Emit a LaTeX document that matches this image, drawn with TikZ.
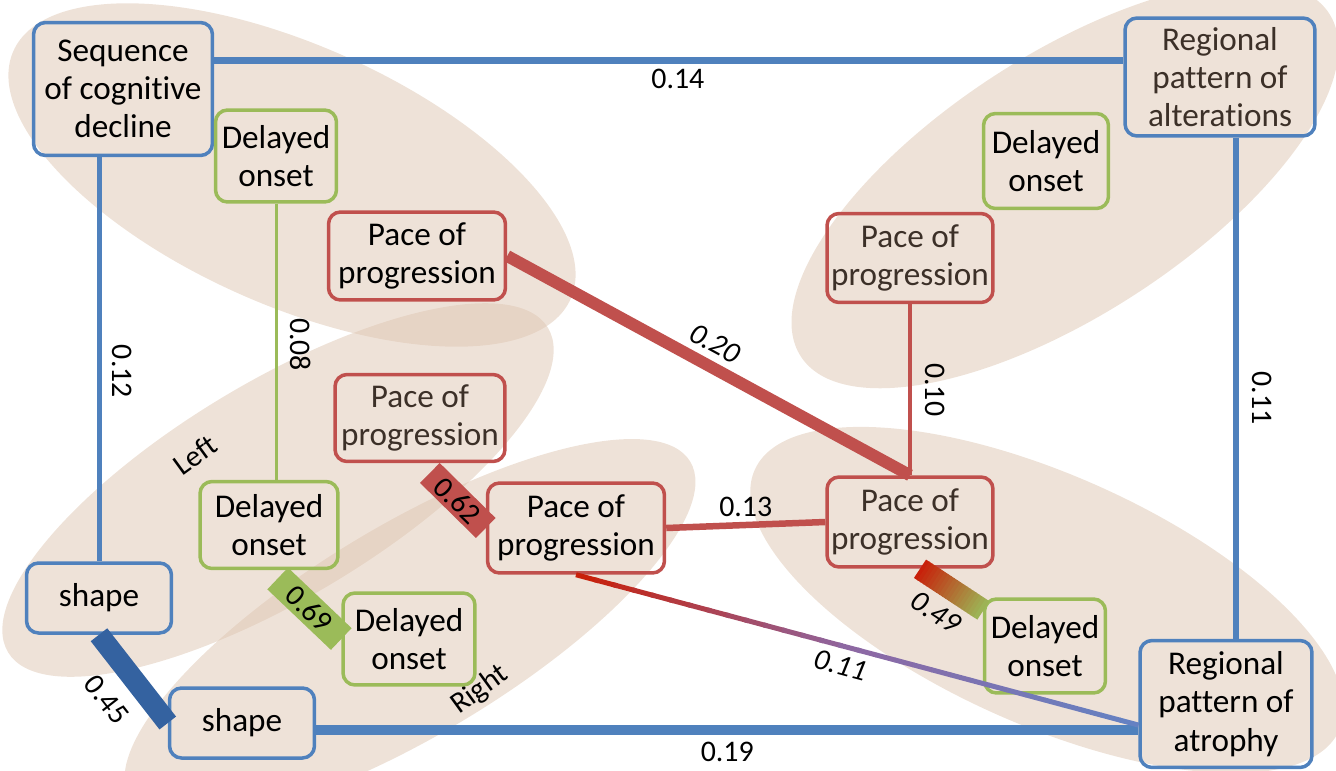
\documentclass[tikz,border=0pt]{standalone}
\usepackage{fontspec}
\setmainfont{Carlito}[Ligatures=NoCommon]
\usetikzlibrary{calc}

\definecolor{boxblue}{RGB}{79,129,189}
\definecolor{boxred}{RGB}{192,80,77}
\definecolor{boxgreen}{RGB}{155,187,89}
\definecolor{bardarkblue}{RGB}{52,98,160}
\definecolor{ovalbeige}{RGB}{222,198,178}
\definecolor{textbrown}{RGB}{60,48,40}
\definecolor{deepred}{RGB}{200,32,10}
\definecolor{linkpurple}{RGB}{140,105,165}
\definecolor{linkblue}{RGB}{100,130,195}

\tikzset{
  factor/.style={draw, rounded corners=0.24cm, line width=0.07cm, align=center,
    inner sep=0pt, text=black, font=\fontsize{18.9}{21.8}\selectfont},
  cogbox/.style={factor, draw=boxblue},
  onsetbox/.style={factor, draw=boxgreen},
  pacebox/.style={factor, draw=boxred},
  oval/.style={fill=ovalbeige, fill opacity=0.5},
  weight/.style={font=\fontsize{17}{20}\selectfont, text=black, inner sep=2pt},
}

\begin{document}
\begin{tikzpicture}[x=0.02cm, y=-0.02cm]
    \useasboundingbox (0, 0) rectangle (1336, 771);
    \clip (0, 0) rectangle (1336, 771);

    % groups
    \fill[oval, rotate around={-24:(292, 175)}] (292, 175) ellipse [x radius=6.1cm, y radius=2.6cm];
    \fill[oval, rotate around={33:(1065, 185)}] (1065, 185) ellipse [x radius=6.3cm, y radius=2.6cm];
    \fill[oval, rotate around={31:(278, 490)}] (278, 490) ellipse [x radius=6.3cm, y radius=2.16cm];
    \fill[oval, rotate around={31:(410, 630)}] (410, 630) ellipse [x radius=6.54cm, y radius=2.1cm];
    \fill[oval, rotate around={-24:(1047, 600)}] (1047, 600) ellipse [x radius=6.4cm, y radius=2.5cm];

    \node[weight, rotate=36] (left) at (195, 455) {Left};
    \node[weight, rotate=36] (right) at (480, 690) {Right};

    % factors
    \node[cogbox, minimum width=3.58cm, minimum height=2.66cm] (seq) at (123, 89) {Sequence\\of cognitive\\decline};
    \node[cogbox, text=textbrown, minimum width=3.8cm, minimum height=2.36cm] (ralt) at (1220, 77) {Regional\\pattern of\\alterations};
    \node[onsetbox, minimum width=2.42cm, minimum height=1.84cm] (dtl) at (276, 156) {Delayed\\onset};
    \node[pacebox, minimum width=3.54cm, minimum height=1.76cm] (ptl) at (417, 256) {Pace of\\progression};
    \node[onsetbox, minimum width=2.5cm, minimum height=1.9cm] (dtr) at (1046, 161) {Delayed\\onset};
    \node[pacebox, text=textbrown, minimum width=3.32cm, minimum height=1.78cm] (ptr) at (910, 258) {Pace of\\progression};
    \node[pacebox, text=textbrown, minimum width=3.4cm, minimum height=1.74cm] (pml) at (420, 418) {Pace of\\progression};
    \node[onsetbox, minimum width=2.76cm, minimum height=1.74cm] (dml) at (269, 525) {Delayed\\onset};
    \node[pacebox, minimum width=3.54cm, minimum height=1.8cm] (pc) at (576, 528) {Pace of\\progression};
    \node[pacebox, text=textbrown, minimum width=3.32cm, minimum height=1.8cm] (prm) at (910, 522) {Pace of\\progression};
    \node[cogbox, minimum width=2.9cm, minimum height=1.4cm] (shl) at (99, 598) {shape};
    \node[onsetbox, minimum width=2.64cm, minimum height=1.84cm] (dc) at (409, 639) {Delayed\\onset};
    \node[onsetbox, minimum width=2.42cm, minimum height=1.88cm] (dbr) at (1045, 646) {Delayed\\onset};
    \node[cogbox, minimum width=2.9cm, minimum height=1.4cm] (sb) at (242, 723) {shape};
    \node[cogbox, minimum width=3.44cm, minimum height=2.54cm] (atr) at (1226, 704) {Regional\\pattern of\\atrophy};

    \coordinate (seqport) at ([yshift=0.58cm]seq.east);
    \coordinate (sbport) at ([yshift=-0.14cm]sb.east);
    \coordinate (atrtop) at ([xshift=0.2cm]atr.north);
    \coordinate (atrlow) at ([yshift=-0.42cm]atr.west);
    \coordinate (prmport) at ([xshift=0.2cm]prm.south);
    \coordinate (dbrport) at ([yshift=0.72cm]dbr.west);

    % links
    \draw[boxblue, line width=0.14cm] (seqport) to node[weight, pos=0.51, below=1pt] {0.14} (seqport -| ralt.west);
    \draw[boxblue, line width=0.1cm] (shl.north |- seq.south) to node[weight, pos=0.53, xshift=0.46cm, rotate=-90] {0.12} (shl.north);
    \draw[boxgreen, line width=0.06cm] (dtl.south) to node[weight, pos=0.51, xshift=0.5cm, rotate=-90] {0.08} (dtl.south |- dml.north);
    \draw[boxblue, line width=0.11cm] (atrtop |- ralt.south) to node[weight, pos=0.52, xshift=0.52cm, rotate=-90] {0.11} (atrtop);
    \draw[boxblue, line width=0.2cm] (sbport) to node[weight, pos=0.5, below=2pt] {0.19} (sbport -| atr.west);
    \draw[boxred, line width=0.08cm] (ptr.south) to node[weight, pos=0.5, xshift=0.5cm, rotate=-90] {0.10} (ptr.south |- prm.north);
    \draw[boxred, line width=0.24cm] (ptl.east) to node[weight, pos=0.49, sloped, above=2pt] {\textit{0.20}} (prm.north);
    \draw[boxred, line width=0.13cm] (pc.east) to node[weight, pos=0.5, above=1pt] {0.13} (prm.west);
    \draw[bardarkblue, line width=0.42cm] (shl.south) to node[weight, pos=0.5, sloped, below=0.2cm] {0.45} (sb.west);
    \draw[boxgreen, line width=0.6cm] ($(dml.south)!0.12!(dc.west)$) to node[weight, pos=0.5, sloped] {0.69} (dc.west);
    \draw[boxred, line width=0.56cm] ($(pml.south)!0.15!(pc.west)$) to node[weight, pos=0.5, sloped] {0.62} (pc.west);

    \foreach \i in {0,...,14} {
        \pgfmathtruncatemacro\mixpct{100-7*\i}
        \draw[line width=0.1cm, draw=deepred!\mixpct!linkpurple] ($(pc.south)!\i/30!(atrlow)$) to ($(pc.south)!\i/30+0.04!(atrlow)$);
    }
    \foreach \i in {15,...,29} {
        \pgfmathtruncatemacro\mixpct{100-7*(\i-15)}
        \draw[line width=0.1cm, draw=linkpurple!\mixpct!linkblue] ($(pc.south)!\i/30!(atrlow)$) to ($(pc.south)!\i/30+0.034!(atrlow)$);
    }
    \path (pc.south) to node[weight, pos=0.48, sloped, below=3pt] {\textit{0.11}} (atrlow);

    \foreach \i in {0,...,19} {
        \pgfmathtruncatemacro\mixpct{100-5*\i}
        \draw[line width=0.44cm, draw=deepred!\mixpct!boxgreen] ($(prmport)!\i/20!(dbrport)$) to ($(prmport)!\i/20+0.06!(dbrport)$);
    }
    \path (prmport) to node[weight, pos=0.5, sloped, below=0.28cm] {\textit{0.49}} (dbrport);
\end{tikzpicture}
\end{document}
